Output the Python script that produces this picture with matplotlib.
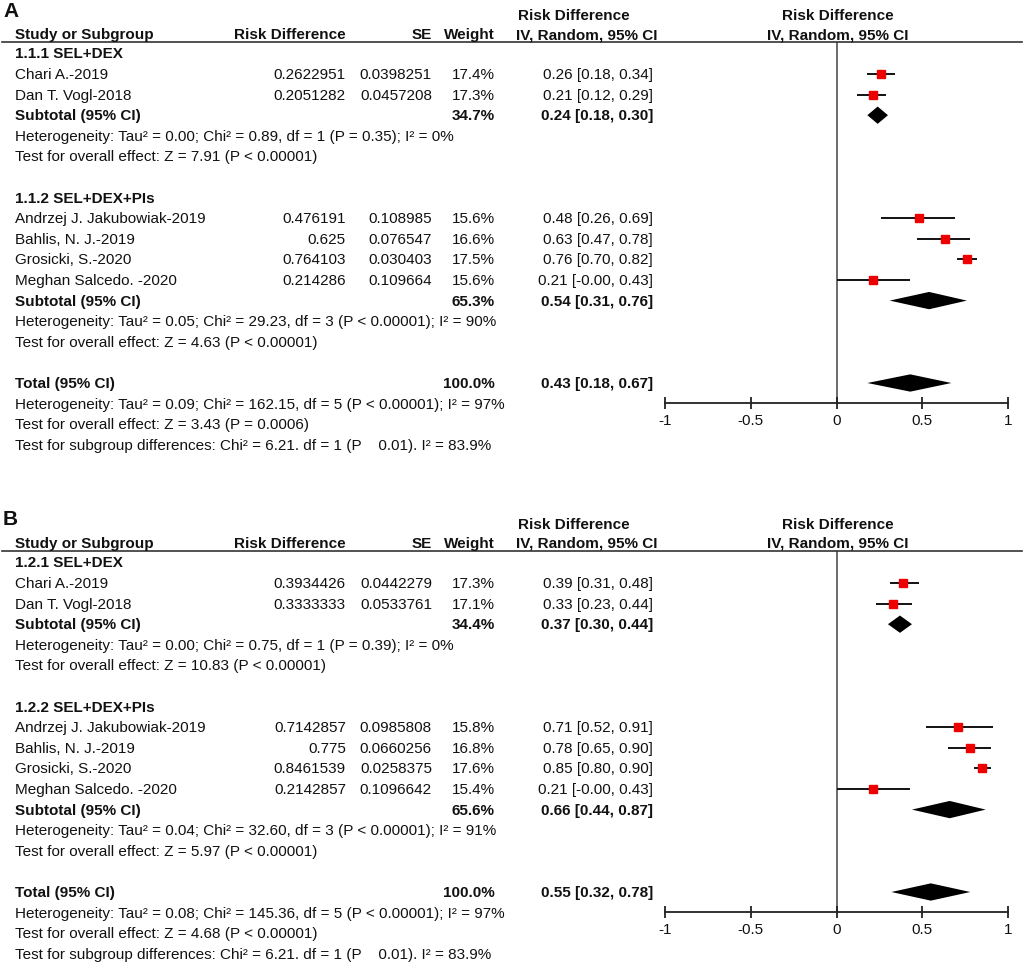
import matplotlib
matplotlib.use("Agg")
import matplotlib.pyplot as plt
from matplotlib.transforms import blended_transform_factory
from matplotlib.lines import Line2D

plt.rcParams['font.family'] = ['Liberation Sans', 'DejaVu Sans']
plt.rcParams['axes.unicode_minus'] = False

# ---------------- data: panel A ----------------
a_groups = ["1.1.1 SEL+DEX", "1.1.2 SEL+DEX+PIs"]
a_study = ["Chari A.-2019", "Dan T. Vogl-2018", "Andrzej J. Jakubowiak-2019",
           "Bahlis, N. J.-2019", "Grosicki, S.-2020", "Meghan Salcedo. -2020"]
a_group_of = [0, 0, 1, 1, 1, 1]
a_rd = ["0.2622951", "0.2051282", "0.476191", "0.625", "0.764103", "0.214286"]
a_se = ["0.0398251", "0.0457208", "0.108985", "0.076547", "0.030403", "0.109664"]
a_weight = [17.4, 17.3, 15.6, 16.6, 17.5, 15.6]
a_est = [0.26, 0.21, 0.48, 0.63, 0.76, 0.21]
a_lo = [0.18, 0.12, 0.26, 0.47, 0.70, -0.0]
a_hi = [0.34, 0.29, 0.69, 0.78, 0.82, 0.43]
a_sub_weight = [34.7, 65.3]
a_sub_est = [0.24, 0.54]
a_sub_lo = [0.18, 0.31]
a_sub_hi = [0.30, 0.76]
a_sub_het = ["Heterogeneity: Tau² = 0.00; Chi² = 0.89, df = 1 (P = 0.35); I² = 0%",
             "Heterogeneity: Tau² = 0.05; Chi² = 29.23, df = 3 (P < 0.00001); I² = 90%"]
a_sub_z = ["Test for overall effect: Z = 7.91 (P < 0.00001)",
           "Test for overall effect: Z = 4.63 (P < 0.00001)"]
a_total = [100.0, 0.43, 0.18, 0.67]
a_total_notes = ["Heterogeneity: Tau² = 0.09; Chi² = 162.15, df = 5 (P < 0.00001); I² = 97%",
                 "Test for overall effect: Z = 3.43 (P = 0.0006)",
                 "Test for subgroup differences: Chi² = 6.21. df = 1 (P    0.01). I² = 83.9%"]

# ---------------- data: panel B ----------------
b_groups = ["1.2.1 SEL+DEX", "1.2.2 SEL+DEX+PIs"]
b_study = a_study
b_group_of = [0, 0, 1, 1, 1, 1]
b_rd = ["0.3934426", "0.3333333", "0.7142857", "0.775", "0.8461539", "0.2142857"]
b_se = ["0.0442279", "0.0533761", "0.0985808", "0.0660256", "0.0258375", "0.1096642"]
b_weight = [17.3, 17.1, 15.8, 16.8, 17.6, 15.4]
b_est = [0.39, 0.33, 0.71, 0.78, 0.85, 0.21]
b_lo = [0.31, 0.23, 0.52, 0.65, 0.80, -0.0]
b_hi = [0.48, 0.44, 0.91, 0.90, 0.90, 0.43]
b_sub_weight = [34.4, 65.6]
b_sub_est = [0.37, 0.66]
b_sub_lo = [0.30, 0.44]
b_sub_hi = [0.44, 0.87]
b_sub_het = ["Heterogeneity: Tau² = 0.00; Chi² = 0.75, df = 1 (P = 0.39); I² = 0%",
             "Heterogeneity: Tau² = 0.04; Chi² = 32.60, df = 3 (P < 0.00001); I² = 91%"]
b_sub_z = ["Test for overall effect: Z = 10.83 (P < 0.00001)",
           "Test for overall effect: Z = 5.97 (P < 0.00001)"]
b_total = [100.0, 0.55, 0.32, 0.78]
b_total_notes = ["Heterogeneity: Tau² = 0.08; Chi² = 145.36, df = 5 (P < 0.00001); I² = 97%",
                 "Test for overall effect: Z = 4.68 (P < 0.00001)",
                 "Test for subgroup differences: Chi² = 6.21. df = 1 (P    0.01). I² = 83.9%"]

xticks = [-1, -0.5, 0, 0.5, 1]
xtick_labels = ["-1", "-0.5", "0", "0.5", "1"]

# ---------------- layout ----------------
W, H = 1024, 970
FS = 11
TXT = '#111111'
ROW0 = 54.4      # px of first row (relative to panel top)
DY = 20.6        # px per row
LINE_Y = 42.5    # header line px
AXIS_Y = 404.0   # forest axis px
X_LEFT, X_RIGHT = 665.0, 1008.0

fig = plt.figure(figsize=(W / 100, H / 100), dpi=100)


def fmt_ci(e, l, h):
    return f"{e:.2f} [{l:.2f}, {h:.2f}]"


def draw_panel(offset, letter, groups, study, group_of, rd, se, weight, est, lo, hi,
               sub_w, sub_e, sub_l, sub_h, sub_het, sub_z, total, total_notes):
    row_top = (LINE_Y - ROW0) / DY
    row_bot = (AXIS_Y - ROW0) / DY
    ax = fig.add_axes([X_LEFT / W, 1 - (offset + AXIS_Y) / H,
                       (X_RIGHT - X_LEFT) / W, (AXIS_Y - LINE_Y) / H])
    ax.set_xlim(-1, 1)
    ax.set_ylim(row_bot, row_top)
    ax.patch.set_alpha(0)
    for s in ['top', 'left', 'right']:
        ax.spines[s].set_visible(False)
    ax.spines['bottom'].set_linewidth(1.3)
    ax.spines['bottom'].set_color('#222222')
    ax.set_yticks([])
    ax.set_xticks(xticks, xtick_labels)
    ax.tick_params(axis='x', direction='inout', length=9, width=1.3,
                   color='#222222', labelsize=FS, pad=3, labelcolor=TXT)
    ax.axvline(0, color='#444444', lw=1.1, zorder=1)

    tr = blended_transform_factory(fig.transFigure, ax.transData)

    def t(xpx, row, s, ha='left', bold=False, size=FS):
        fig.text(xpx / W, row, s, transform=tr, ha=ha, va='center',
                 fontsize=size, fontweight='bold' if bold else 'normal', color=TXT)

    # header line
    fig.add_artist(Line2D([2 / W, 1022 / W], [row_top, row_top], transform=tr,
                          color='#333333', lw=1.2))
    # headers
    r1 = (16 - ROW0) / DY
    r2 = (35 - ROW0) / DY
    t(3, (11 - ROW0) / DY, letter, bold=True, size=15)
    t(574, r1, "Risk Difference", ha='center', bold=True)
    t(838, r1, "Risk Difference", ha='center', bold=True)
    t(15, r2, "Study or Subgroup", bold=True)
    t(346, r2, "Risk Difference", ha='right', bold=True)
    t(432, r2, "SE", ha='right', bold=True)
    t(495, r2, "Weight", ha='right', bold=True)
    t(657, r2, "IV, Random, 95% CI", ha='right', bold=True)
    t(838, r2, "IV, Random, 95% CI", ha='center', bold=True)

    row = 0
    for g, gname in enumerate(groups):
        t(15, row, gname, bold=True)
        row += 1
        for i in range(len(study)):
            if group_of[i] != g:
                continue
            t(15, row, study[i])
            t(346, row, rd[i], ha='right')
            t(432, row, se[i], ha='right')
            t(495, row, f"{weight[i]:.1f}%", ha='right')
            t(653, row, fmt_ci(est[i], lo[i], hi[i]), ha='right')
            ax.plot([lo[i], hi[i]], [row, row], color='#111111', lw=1.4,
                    solid_capstyle='butt', zorder=2, clip_on=False)
            ax.plot([est[i]], [row], marker='s', ms=5.2, color='#ee0000',
                    mec='#ee0000', zorder=3, clip_on=False)
            row += 1
        t(15, row, "Subtotal (95% CI)", bold=True)
        t(495, row, f"{sub_w[g]:.1f}%", ha='right', bold=True)
        t(653, row, fmt_ci(sub_e[g], sub_l[g], sub_h[g]), ha='right', bold=True)
        ax.fill([sub_l[g], sub_e[g], sub_h[g], sub_e[g]],
                [row, row - 0.42, row, row + 0.42], color='black', lw=0, zorder=3)
        row += 1
        t(15, row, sub_het[g])
        row += 1
        t(15, row, sub_z[g])
        row += 2
    t(15, row, "Total (95% CI)", bold=True)
    t(495, row, f"{total[0]:.1f}%", ha='right', bold=True)
    t(653, row, fmt_ci(total[1], total[2], total[3]), ha='right', bold=True)
    ax.fill([total[2], total[1], total[3], total[1]],
            [row, row - 0.42, row, row + 0.42], color='black', lw=0, zorder=3)
    for note in total_notes:
        row += 1
        t(15, row, note)


draw_panel(0, "A", a_groups, a_study, a_group_of, a_rd, a_se, a_weight, a_est, a_lo, a_hi,
           a_sub_weight, a_sub_est, a_sub_lo, a_sub_hi, a_sub_het, a_sub_z, a_total, a_total_notes)
draw_panel(509, "B", b_groups, b_study, b_group_of, b_rd, b_se, b_weight, b_est, b_lo, b_hi,
           b_sub_weight, b_sub_est, b_sub_lo, b_sub_hi, b_sub_het, b_sub_z, b_total, b_total_notes)

fig.savefig("out.png", dpi=100)
